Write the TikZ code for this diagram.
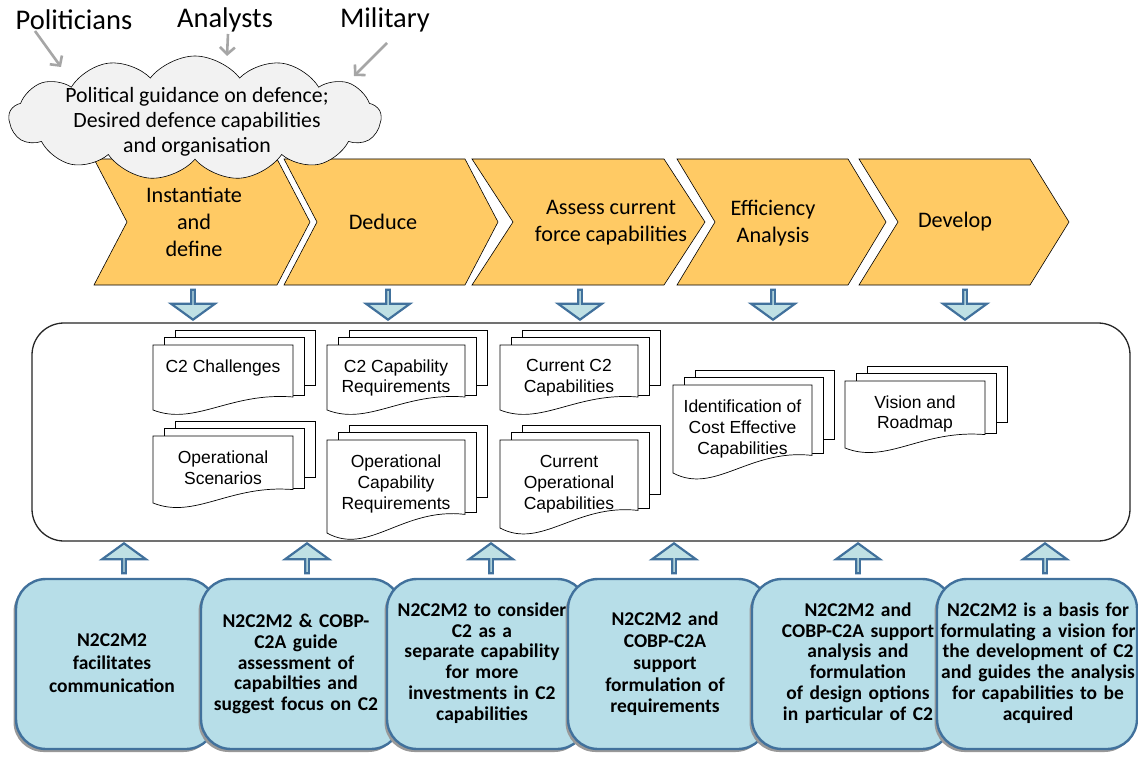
\documentclass[tikz,border=0pt]{standalone}
\usepackage{fontspec}
\setmainfont{Carlito}
\newfontfamily\arialf{Liberation Sans}
\usetikzlibrary{shapes.symbols,shapes.arrows,arrows.meta,shadows}
\definecolor{chev}{HTML}{FFCA64}
\definecolor{bfill}{HTML}{B7DEE8}
\definecolor{bline}{HTML}{41719C}
\definecolor{afill}{HTML}{BFE0E4}
\definecolor{cloudg}{HTML}{F2F2F2}
\definecolor{garrow}{HTML}{A6A6A6}
\newcommand\mychev[3]{%
  \fill[chev,draw=black,line width=0.6pt] (#1,159) -- (#2,159) -- (#2+#3,222) -- (#2,285) -- (#1,285) -- (#1+#3,222) -- cycle;}
% name, x, top, h, w, text, text y
\newcommand\mydoc[7]{%
  \draw[fill=white,line width=0.7pt] (#2+22,#3-15) rectangle (#2+#5+22,#3+0.62*#4);
  \draw[fill=white,line width=0.7pt] (#2+11,#3-8) rectangle (#2+#5+11,#3+0.78*#4);
  \draw[fill=white,line width=0.7pt] (#2,#3) -- (#2+#5,#3) -- (#2+#5,#3+0.8*#4)
     .. controls (#2+0.55*#5,#3+0.72*#4) and (#2+0.3*#5,#3+1.25*#4) .. (#2,#3+#4) -- cycle;
  \node[doctext] (#1) at (#2+0.5*#5,#7) {#6};}
\begin{document}
\begin{tikzpicture}[x=1pt,y=-1pt,
  doctext/.style={font=\arialf\fontsize{17.5}{20.8}\selectfont, align=center, inner sep=0pt},
  chevtext/.style={font=\fontsize{22.2}{26.7}\selectfont, align=center, inner sep=0pt},
  toplabel/.style={font=\fontsize{28.5}{32}\selectfont, inner sep=0pt},
  garr/.style={draw=garrow, line width=2.6pt, -{Straight Barb[length=7pt,width=15pt]}},
  darrow/.style={single arrow, draw=bline, fill=afill, line width=2.2pt, inner sep=0pt,
     minimum height=30pt, minimum width=44pt, single arrow head extend=12pt,
     single arrow tip angle=108},
  bbox/.style={draw=bline, fill=bfill, line width=2.4pt, rounded corners=30pt,
     minimum width=200pt, minimum height=170pt,
     drop shadow={shadow xshift=-2.5pt, shadow yshift=-3pt, fill=black!40, opacity=1}},
  btext/.style={font=\bfseries\fontsize{19.5}{20.8}\selectfont, align=center, inner sep=0pt, text width=200pt}
]
\useasboundingbox (0,0) rectangle (1138,757);
\fill[white] (0,0) rectangle (1138,757);

% chevrons
\mychev{94}{277}{33}
\mychev{284}{465}{33}
\mychev{472}{664}{41}
\mychev{677}{848}{38}
\mychev{859}{1030}{39}

% cloud
\node[cloud, draw=black, fill=cloudg, line width=0.6pt, cloud puffs=13, cloud puff arc=105,
  cloud ignores aspect, minimum width=372pt, minimum height=124pt, inner sep=0pt] (cloud) at (195,118) {};
\node[font=\fontsize{21.8}{25}\selectfont, align=center, inner sep=0pt] (guid) at (197,122)
  {Political guidance on defence;\\Desired defence capabilities\\and organisation};

% top labels and gray arrows
\node[toplabel] (pol) at (74,20) {Politicians};
\node[toplabel] (ana) at (225,20) {Analysts};
\node[toplabel] (mil) at (385,20) {Military};
\coordinate (pa) at (35,31); \coordinate (pb) at (61,67);
\coordinate (aa) at (228,34); \coordinate (ab) at (227,56);
\coordinate (ma) at (387,43); \coordinate (mb) at (354,76);
\draw[garr] (pa) -- (pb);
\draw[garr] (aa) -- (ab);
\draw[garr] (ma) -- (mb);

% chevron texts
\node[chevtext] (c1) at (194,222) {Instantiate\\and\\define};
\node[chevtext] (c2) at (383,222) {Deduce};
\node[chevtext] (c3) at (611,223) {Assess current\\force capabilities};
\node[chevtext] (c4) at (773,223) {Efficiency\\Analysis};
\node[chevtext] (c5) at (955,222) {Develop};

% down arrows
\node[darrow, shape border rotate=270] (d1) at (193,304) {};
\node[darrow, shape border rotate=270] (d2) at (388,304) {};
\node[darrow, shape border rotate=270] (d3) at (580,304) {};
\node[darrow, shape border rotate=270] (d4) at (773,304) {};
\node[darrow, shape border rotate=270] (d5) at (965,304) {};

% main rounded rectangle
\node[draw=black!85, line width=1.3pt, rounded corners=32pt, minimum width=1098pt,
  minimum height=218pt, inner sep=0pt] (main) at (581,432) {};

% documents
\mydoc{dA}{153}{345}{65}{140}{C2 Challenges}{368}
\mydoc{dB}{327}{345}{65}{138}{C2 Capability\\Requirements}{378}
\mydoc{dC}{500}{345}{65}{138}{Current C2\\Capabilities}{378}
\mydoc{dD}{153}{436}{67}{140}{Operational\\Scenarios}{468}
\mydoc{dE}{327}{440}{93}{138}{Operational\\Capability\\Requirements}{484}
\mydoc{dF}{500}{440}{88}{138}{Current\\Operational\\Capabilities}{484}
\mydoc{dG}{673}{385}{88}{139}{Identification of\\Cost Effective\\Capabilities}{429}
\mydoc{dH}{845}{381}{67}{140}{Vision and\\Roadmap}{414}

% up arrows
\node[darrow, shape border rotate=90] (u1) at (124,559) {};
\node[darrow, shape border rotate=90] (u2) at (307,559) {};
\node[darrow, shape border rotate=90] (u3) at (491,559) {};
\node[darrow, shape border rotate=90] (u4) at (674,559) {};
\node[darrow, shape border rotate=90] (u5) at (858,559) {};
\node[darrow, shape border rotate=90] (u6) at (1045,559) {};

% bottom boxes
\node[bbox] (b1) at (116,664) {};
\node[btext, font=\bfseries\fontsize{19.5}{22.8}\selectfont] (t1) at (112,663) {N2C2M2\\facilitates\\communication};
\node[bbox] (b2) at (301,664) {};
\node[btext] (t2) at (296,664) {N2C2M2 \& COBP-\\C2A guide\\assessment of\\capabilties and\\suggest focus on C2};
\node[bbox] (b3) at (487,664) {};
\node[btext] (t3) at (482,663) {N2C2M2 to consider\\C2 as a\\separate capability\\for more\\investments in C2\\capabilities};
\node[bbox] (b4) at (668,664) {};
\node[btext, font=\bfseries\fontsize{19.5}{21.7}\selectfont] (t4) at (665,664) {N2C2M2 and\\COBP-C2A\\support\\formulation of\\requirements};
\node[bbox] (b5) at (852,664) {};
\node[btext] (t5) at (858,663) {N2C2M2 and\\COBP-C2A support\\analysis and\\formulation\\of design options\\in particular of C2};
\node[bbox] (b6) at (1037,664) {};
\node[btext] (t6) at (1038,663) {N2C2M2 is a basis for\\formulating a vision for\\the development of C2\\and guides the analysis\\for capabilities to be\\acquired};
\end{tikzpicture}
\end{document}
